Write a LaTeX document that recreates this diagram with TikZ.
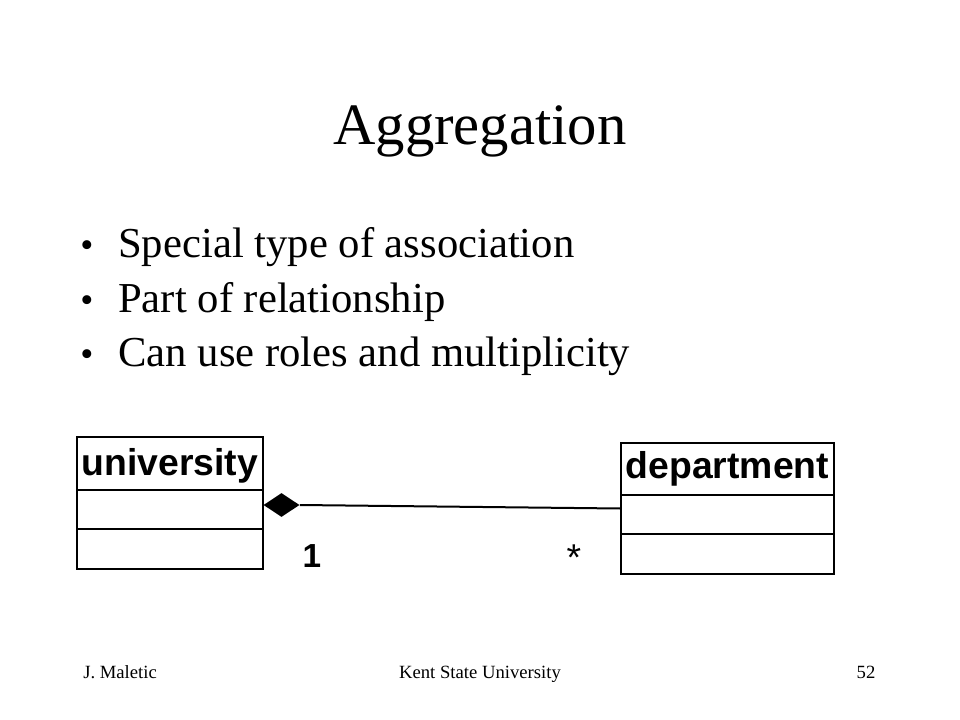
\documentclass[tikz,border=0pt]{standalone}
\usepackage{fontspec}
\setmainfont{Liberation Serif}
\newfontfamily\umlfont{Liberation Sans}
\usetikzlibrary{shapes.geometric}

\begin{document}
\begin{tikzpicture}[x=0.75pt, y=-0.75pt, >=stealth,
    every node/.style={inner sep=0pt},
    title/.style={anchor=base, font=\fontsize{44}{52}\selectfont},
    item/.style={anchor=base west, font=\fontsize{32}{38}\selectfont},
    dot/.style={anchor=base, font=\fontsize{28}{34}\selectfont},
    foot/.style={anchor=base, font=\fontsize{14}{17}\selectfont},
    classbox/.style={draw, line width=1.5pt},
    classname/.style={anchor=base, font=\umlfont\bfseries\fontsize{28}{34}\selectfont},
    mult/.style={anchor=base, font=\umlfont\bfseries\fontsize{25}{30}\selectfont}]

  \useasboundingbox (0,0) rectangle (960,720);

  % title and bullets
  \node[title] (head) at (480,145) {Aggregation};
  \node[dot] (b1) at (87,258) {\textbullet};
  \node[item] (t1) at (118,258) {Special type of association};
  \node[dot] (b2) at (87,312) {\textbullet};
  \node[item] (t2) at (118,312) {Part of relationship};
  \node[dot] (b3) at (87,366) {\textbullet};
  \node[item] (t3) at (118,366) {Can use roles and multiplicity};

  % classes
  \node[classbox, minimum width=139.5pt, minimum height=99pt] (univ) at (170,503) {};
  \node[classname] (univname) at (170,475) {university};
  \draw[line width=1.5pt] (univ.west |- 0,490) -- (univ.east |- 0,490);
  \draw[line width=1.5pt] (univ.west |- 0,529) -- (univ.east |- 0,529);

  \node[classbox, minimum width=159.75pt, minimum height=98.25pt] (dept) at (727.5,508.5) {};
  \node[classname] (deptname) at (727.5,478) {department};
  \draw[line width=1.5pt] (dept.west |- 0,495) -- (dept.east |- 0,495);
  \draw[line width=1.5pt] (dept.west |- 0,534) -- (dept.east |- 0,534);

  % aggregation
  \node[diamond, fill, minimum width=27pt, minimum height=18pt] (agg) at (281.5,505) {};
  \draw[line width=1.5pt] (agg.east) -- (dept.west);   % whole -> part
  \node[mult] (one) at (312,567) {1};
  \node[mult, font=\umlfont\fontsize{28}{34}\selectfont] (many) at (574,570) {*};

  % footer
  \node[foot, anchor=base west] (author) at (83,678) {J. Maletic};
  \node[foot] (school) at (480,678) {Kent State University};
  \node[foot] (page) at (866,678) {52};

\end{tikzpicture}
\end{document}
